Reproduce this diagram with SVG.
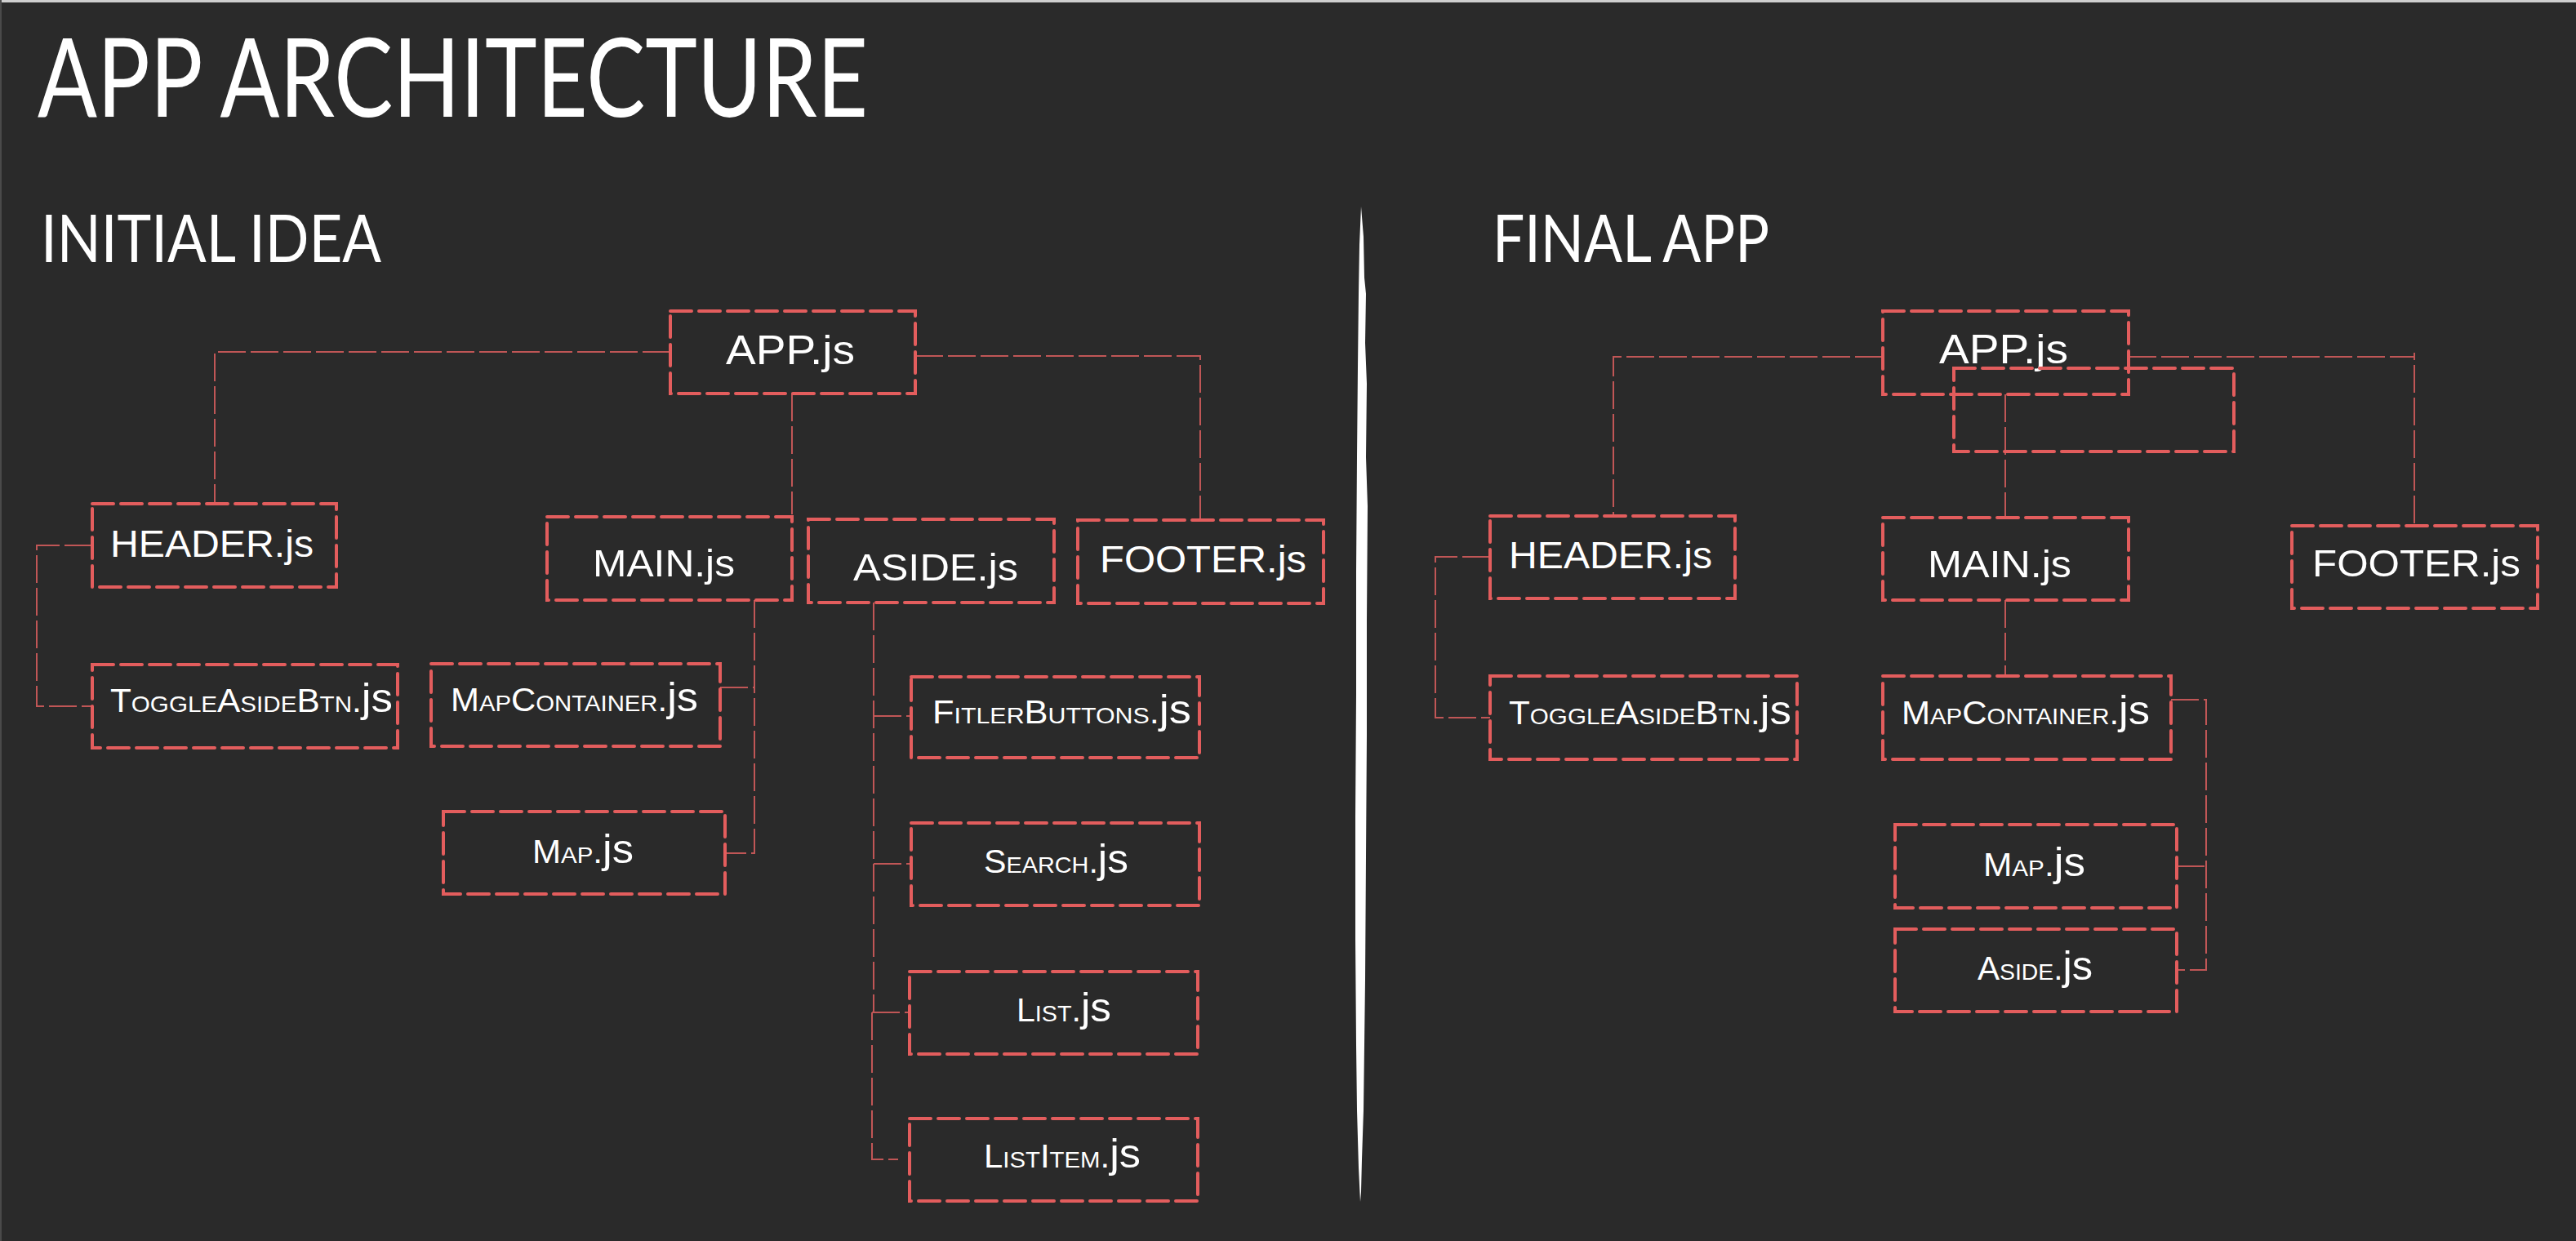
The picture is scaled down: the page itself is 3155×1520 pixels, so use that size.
<svg xmlns="http://www.w3.org/2000/svg" width="3155" height="1520" viewBox="0 0 3155 1520">
<style>
.box{fill:none;stroke:#e35d5d;stroke-width:4;stroke-dasharray:26 9;stroke-linecap:round}
.con{fill:none;stroke:#c05656;stroke-width:2;stroke-dasharray:34 6}
.t{fill:#ffffff;font-family:"Liberation Sans",Arial,sans-serif}
.big{font-size:47px}
.sm{font-size:40px}
.js{font-size:50px}
.head{fill:#ffffff;font-family:Lato,"Liberation Sans",Arial,sans-serif;font-weight:400}
</style>
<rect x="0" y="0" width="3155" height="1520" fill="#2a2a2a"/>
<rect x="0" y="0" width="3155" height="3" fill="#cfcfcf"/>
<rect x="0" y="0" width="2" height="1520" fill="#4a4a4a"/>

<g id="titles">
<text class="head" x="46" y="143" font-size="134" textLength="1017" lengthAdjust="spacingAndGlyphs">APP ARCHITECTURE</text>
<text class="head" x="50" y="321" font-size="82" textLength="417" lengthAdjust="spacingAndGlyphs">INITIAL IDEA</text>
<text class="head" x="1828" y="321" font-size="82" textLength="339" lengthAdjust="spacingAndGlyphs">FINAL APP</text>
</g>

<g id="divider">
<path fill="#ffffff" d="M1667,253 L1670,290 L1671,340 L1673,360 L1672,420 L1674,470 L1673,560 L1675,620 L1674,760 L1674,900 L1673,1050 L1672,1200 L1671,1280 L1670,1360 L1668,1420 L1667,1460 L1666,1472 L1664,1430 L1662,1360 L1661,1280 L1660,1150 L1660,1000 L1661,850 L1661,700 L1662,560 L1663,450 L1664,360 L1665,300 Z"/>
</g>

<g id="connectors">
<path class="con" d="M821,431 H263 V617"/>
<path class="con" d="M1121,436 H1470 V637"/>
<path class="con" d="M970,482 V630"/>
<path class="con" d="M113,668 H45 V865 H113"/>
<path class="con" d="M924,735 V1045 H888"/>
<path class="con" d="M882,842 H924"/>
<path class="con" d="M1070,738 V1240"/>
<path class="con" d="M1068,1240 V1420 H1100"/>
<path class="con" d="M1070,877 H1116"/>
<path class="con" d="M1070,1058 H1116"/>
<path class="con" d="M1068,1240 H1114"/>
<path class="con" d="M2306,437 H1976 V632"/>
<path class="con" d="M2607,437 H2957 V643"/>
<path class="con" d="M2957,432 V437"/>
<path class="con" d="M2456,483 V634"/>
<path class="con" d="M1825,682 H1758 V879 H1825"/>
<path class="con" d="M2456,735 V828"/>
<path class="con" d="M2659,857 H2702 V1188 H2666"/>
<path class="con" d="M2666,1061 H2702"/>
</g>

<g id="app-left"><rect class="box" x="821" y="381" width="300" height="101"/>
<text class="t" x="889" y="446" font-size="50" textLength="158" lengthAdjust="spacingAndGlyphs">APP.js</text></g>
<g id="header-left"><rect class="box" x="113" y="617" width="299" height="102"/>
<text class="t big" x="135" y="682" textLength="249" lengthAdjust="spacingAndGlyphs">HEADER.js</text></g>
<g id="main-left"><rect class="box" x="670" y="633" width="300" height="102"/>
<text class="t big" x="726" y="706" textLength="174" lengthAdjust="spacingAndGlyphs">MAIN.js</text></g>
<g id="aside-left"><rect class="box" x="990" y="636" width="301" height="102"/>
<text class="t big" x="1045" y="711" textLength="202" lengthAdjust="spacingAndGlyphs">ASIDE.js</text></g>
<g id="footer-left"><rect class="box" x="1320" y="637" width="301" height="102"/>
<text class="t big" x="1347" y="701" textLength="253" lengthAdjust="spacingAndGlyphs">FOOTER.js</text></g>
<g id="toggle-left"><rect class="box" x="113" y="814" width="374" height="102"/>
<text class="t sm" x="135" y="872" textLength="346" lengthAdjust="spacingAndGlyphs"><tspan font-variant="small-caps">ToggleAsideBtn.</tspan><tspan class="js">js</tspan></text></g>
<g id="mapcontainer-left"><rect class="box" x="528" y="813" width="354" height="101"/>
<text class="t sm" x="552" y="871" textLength="303" lengthAdjust="spacingAndGlyphs"><tspan font-variant="small-caps">MapContainer.</tspan><tspan class="js">js</tspan></text></g>
<g id="map-left"><rect class="box" x="543" y="994" width="345" height="101"/>
<text class="t sm" x="652" y="1057" textLength="124" lengthAdjust="spacingAndGlyphs"><tspan font-variant="small-caps">Map.</tspan><tspan class="js">js</tspan></text></g>
<g id="fitlerbuttons-left"><rect class="box" x="1116" y="829" width="353" height="99"/>
<text class="t sm" x="1142" y="886" textLength="317" lengthAdjust="spacingAndGlyphs"><tspan font-variant="small-caps">FitlerButtons.</tspan><tspan class="js">js</tspan></text></g>
<g id="search-left"><rect class="box" x="1116" y="1008" width="353" height="101"/>
<text class="t sm" x="1205" y="1069" textLength="177" lengthAdjust="spacingAndGlyphs"><tspan font-variant="small-caps">Search.</tspan><tspan class="js">js</tspan></text></g>
<g id="list-left"><rect class="box" x="1114" y="1190" width="353" height="101"/>
<text class="t sm" x="1245" y="1251" textLength="116" lengthAdjust="spacingAndGlyphs"><tspan font-variant="small-caps">List.</tspan><tspan class="js">js</tspan></text></g>
<g id="listitem-left"><rect class="box" x="1114" y="1370" width="353" height="101"/>
<text class="t sm" x="1205" y="1430" textLength="192" lengthAdjust="spacingAndGlyphs"><tspan font-variant="small-caps">ListItem.</tspan><tspan class="js">js</tspan></text></g>

<g id="app-right"><rect class="box" x="2306" y="381" width="301" height="102"/>
<text class="t" x="2375" y="445" font-size="50" textLength="158" lengthAdjust="spacingAndGlyphs">APP.js</text></g>
<g id="empty-right"><rect class="box" x="2393" y="451" width="343" height="102"/></g>
<g id="header-right"><rect class="box" x="1825" y="632" width="300" height="101"/>
<text class="t big" x="1848" y="696" textLength="249" lengthAdjust="spacingAndGlyphs">HEADER.js</text></g>
<g id="main-right"><rect class="box" x="2306" y="634" width="301" height="101"/>
<text class="t big" x="2361" y="707" textLength="176" lengthAdjust="spacingAndGlyphs">MAIN.js</text></g>
<g id="footer-right"><rect class="box" x="2807" y="644" width="301" height="101"/>
<text class="t big" x="2832" y="706" textLength="255" lengthAdjust="spacingAndGlyphs">FOOTER.js</text></g>
<g id="toggle-right"><rect class="box" x="1825" y="828" width="376" height="102"/>
<text class="t sm" x="1848" y="887" textLength="346" lengthAdjust="spacingAndGlyphs"><tspan font-variant="small-caps">ToggleAsideBtn.</tspan><tspan class="js">js</tspan></text></g>
<g id="mapcontainer-right"><rect class="box" x="2306" y="828" width="353" height="102"/>
<text class="t sm" x="2329" y="887" textLength="304" lengthAdjust="spacingAndGlyphs"><tspan font-variant="small-caps">MapContainer.</tspan><tspan class="js">js</tspan></text></g>
<g id="map-right"><rect class="box" x="2321" y="1010" width="345" height="102"/>
<text class="t sm" x="2429" y="1073" textLength="125" lengthAdjust="spacingAndGlyphs"><tspan font-variant="small-caps">Map.</tspan><tspan class="js">js</tspan></text></g>
<g id="aside-right"><rect class="box" x="2321" y="1138" width="345" height="101"/>
<text class="t sm" x="2422" y="1200" textLength="141" lengthAdjust="spacingAndGlyphs"><tspan font-variant="small-caps">Aside.</tspan><tspan class="js">js</tspan></text></g>
</svg>
